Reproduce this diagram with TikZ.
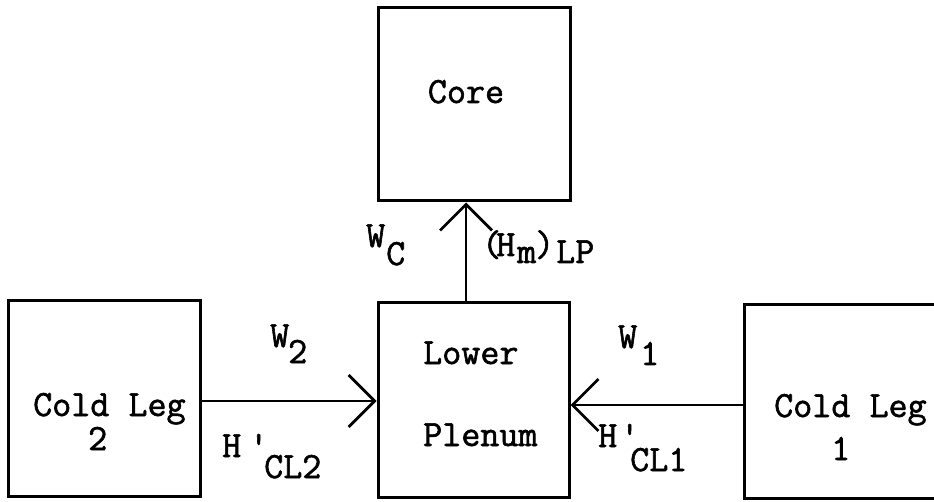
\documentclass[tikz,border=0pt]{standalone}
\usepackage{fontspec}
\newfontfamily\typew{Latin Modern Mono}[FakeBold=1.6]
\usetikzlibrary{arrows.meta}
\begin{document}
\begin{tikzpicture}[x=1pt,y=-1pt,
  box/.style={draw,line width=3pt,inner sep=0pt},
  flow/.style={line width=2.6pt,-{Straight Barb[length=26pt,width=52pt,line width=2.8pt]}},
  lbl/.style={inner sep=0pt,anchor=base west,font=\fontsize{37}{37}\typew}]
\useasboundingbox (0,0) rectangle (934,502);
% boxes
\node[box,minimum width=192pt,minimum height=193pt] (core) at (474,104.5) {};
\node[box,minimum width=191pt,minimum height=194pt] (lp) at (473.5,400) {};
\node[box,minimum width=192pt,minimum height=195pt] (cl2) at (104,398.5) {};
\node[box,minimum width=192pt,minimum height=193pt] (cl1) at (840,401.5) {};
% box texts
\node[lbl,anchor=base] (tcore) at (466,103) {Core};
\node[lbl] (tlower) at (423,364) {Lower};
\node[lbl] (tplenum) at (423,446) {Plenum};
\node[lbl] (tcl2a) at (33,416) {Cold Leg};
\node[lbl] (tcl2b) at (88,450) {2};
\node[lbl] (tcl1a) at (774,417) {Cold Leg};
\node[lbl] (tcl1b) at (831,460) {1};
% connectors
\coordinate (lpn) at ([xshift=-7.5pt]lp.north);
\draw[flow] (lpn) -- (lpn |- core.south);
\coordinate (cl2e) at ([yshift=-2.5pt]cl2.east);
\draw[flow] (cl2e) -- (cl2e -| lp.west);
\coordinate (cl1w) at ([yshift=-3.5pt]cl1.west);
\draw[flow] (cl1w) -- (cl1w -| lp.east);
% flow labels
\node[lbl] (w2) at (270,347) {W};
\node[lbl] (w2s) at (288,363) {2};
\node[lbl] (w1) at (618,348) {W};
\node[lbl] (w1s) at (640,365) {1};
\node[lbl] (h2) at (222,457) {H};
\node[lbl] (h2p) at (249,457) {'};
\node[lbl] (h2s) at (264,478) {CL2};
\node[lbl] (h1) at (598,447) {H};
\node[lbl] (h1p) at (620,447) {'};
\node[lbl] (h1s) at (630,471) {CL1};
\node[lbl] (wc) at (366,247) {W};
\node[lbl] (wcs) at (386,265) {C};
\node[lbl] (hm0) at (482,256) {(};
\node[lbl] (hm1) at (496,256) {H};
\node[lbl] (hm2) at (517,263) {m};
\node[lbl] (hm3) at (535,256) {)};
\node[lbl] (hm4) at (556,263) {LP};
\end{tikzpicture}
\end{document}
